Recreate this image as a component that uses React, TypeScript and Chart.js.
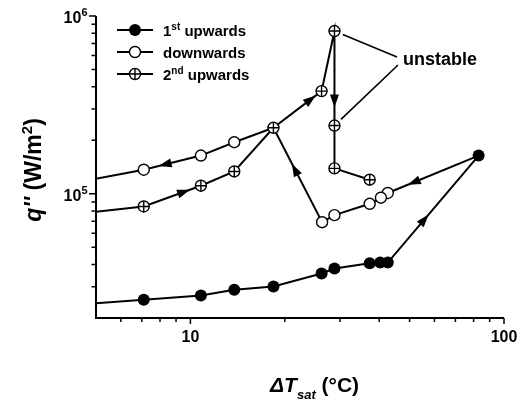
import React, { useEffect, useRef } from "react";
import { Chart, registerables } from "chart.js";

Chart.register(...registerables);

// ---- data (ΔTsat in °C, q'' in W/m²) ----
const up1X = [4, 7.1, 10.8, 13.8, 18.4, 26.2, 28.8, 37.3, 40.3, 42.6, 83];
const up1Y = [2.35e4, 2.53e4, 2.68e4, 2.88e4, 3.01e4, 3.56e4, 3.8e4, 4.07e4, 4.1e4, 4.1e4, 1.64e5];

const downX = [83, 42.6, 40.5, 37.3, 28.8, 26.3, 18.4, 13.8, 10.8, 7.1, 4];
const downY = [1.64e5, 1.01e5, 9.5e4, 8.78e4, 7.58e4, 6.92e4, 2.35e5, 1.95e5, 1.64e5, 1.365e5, 1.125e5];
const downMarker = [false, true, true, true, true, true, false, true, true, true, true];

const up2X = [4, 7.1, 10.8, 13.8, 18.4, 26.2, 28.8, 28.8, 28.8, 37.3];
const up2Y = [7.6e4, 8.48e4, 1.11e5, 1.335e5, 2.35e5, 3.78e5, 8.23e5, 2.42e5, 1.39e5, 1.2e5];

const seriesNames = ["1st upwards", "downwards", "2nd upwards"];

// arrows: series, segment start index, fraction along the segment
const arrowSpecs = [
  { s: "up2", i: 1, t: 0.81 },
  { s: "up2", i: 4, t: 0.88 },
  { s: "up2", i: 6, t: 0.81 },
  { s: "down", i: 0, t: 0.78 },
  { s: "down", i: 5, t: 0.62 },
  { s: "down", i: 8, t: 0.74 },
  { s: "up1", i: 9, t: 0.45 },
];

// annotated "unstable" points (indices into up2)
const unstableIdx = [6, 7];

const xMajor = [10, 100];
const xMajorLabels = ["10", "100"];
const yMajor = [1e5, 1e6];
const yMajorExp = ["5", "6"];
const minorMult = [2, 3, 4, 5, 6, 7, 8, 9];
const xDecades = [1, 10];
const yDecades = [1e4, 1e5];

const FF = '"Liberation Sans", Arial, Helvetica, sans-serif';

function zip(xs: number[], ys: number[]) {
  return xs.map((x, i) => ({ x, y: ys[i] }));
}

type Seg = { t: string; font: string; dy?: number };
function drawSegs(ctx: CanvasRenderingContext2D, segs: Seg[], x: number, y: number, align: "left" | "center" | "right") {
  let w = 0;
  for (const s of segs) {
    ctx.font = s.font;
    w += ctx.measureText(s.t).width;
  }
  let cx = align === "center" ? x - w / 2 : align === "right" ? x - w : x;
  ctx.textAlign = "left";
  ctx.textBaseline = "alphabetic";
  for (const s of segs) {
    ctx.font = s.font;
    ctx.fillText(s.t, cx, y + (s.dy || 0));
    cx += ctx.measureText(s.t).width;
  }
}

export default function App() {
  const ref = useRef<HTMLCanvasElement | null>(null);

  useEffect(() => {
    const canvas = ref.current!;

    const drawFilled = (ctx: CanvasRenderingContext2D, x: number, y: number) => {
      ctx.beginPath();
      ctx.arc(x, y, 6, 0, Math.PI * 2);
      ctx.fillStyle = "#000";
      ctx.fill();
    };
    const drawOpen = (ctx: CanvasRenderingContext2D, x: number, y: number) => {
      ctx.beginPath();
      ctx.arc(x, y, 5.5, 0, Math.PI * 2);
      ctx.fillStyle = "#fff";
      ctx.fill();
      ctx.lineWidth = 1.4;
      ctx.strokeStyle = "#000";
      ctx.stroke();
    };
    const drawCross = (ctx: CanvasRenderingContext2D, x: number, y: number) => {
      drawOpen(ctx, x, y);
      ctx.beginPath();
      ctx.moveTo(x - 5.5, y);
      ctx.lineTo(x + 5.5, y);
      ctx.moveTo(x, y - 5.5);
      ctx.lineTo(x, y + 5.5);
      ctx.stroke();
    };

    const overlay = {
      id: "overlay",
      afterDatasetsDraw(chart: any) {
        const ctx: CanvasRenderingContext2D = chart.ctx;
        const xs = chart.scales.x;
        const ys = chart.scales.y;
        const px = (v: number) => xs.getPixelForValue(v);
        const py = (v: number) => ys.getPixelForValue(v);
        const series: Record<string, { x: number[]; y: number[] }> = {
          up1: { x: up1X, y: up1Y },
          down: { x: downX, y: downY },
          up2: { x: up2X, y: up2Y },
        };
        ctx.save();
        ctx.fillStyle = "#000";
        for (const a of arrowSpecs) {
          const sr = series[a.s];
          const p0 = { x: px(sr.x[a.i]), y: py(sr.y[a.i]) };
          const p1 = { x: px(sr.x[a.i + 1]), y: py(sr.y[a.i + 1]) };
          const dx = p1.x - p0.x;
          const dy = p1.y - p0.y;
          const L = Math.hypot(dx, dy);
          const ux = dx / L;
          const uy = dy / L;
          const tx = p0.x + dx * a.t;
          const ty = p0.y + dy * a.t;
          const len = 13;
          const hw = 4.5;
          const bx = tx - ux * len;
          const by = ty - uy * len;
          ctx.beginPath();
          ctx.moveTo(tx, ty);
          ctx.lineTo(bx - uy * hw, by + ux * hw);
          ctx.lineTo(bx + uy * hw, by - ux * hw);
          ctx.closePath();
          ctx.fill();
        }
        ctx.restore();
      },
      afterDraw(chart: any) {
        const ctx: CanvasRenderingContext2D = chart.ctx;
        const area = chart.chartArea;
        const xs = chart.scales.x;
        const ys = chart.scales.y;
        const px = (v: number) => xs.getPixelForValue(v);
        const py = (v: number) => ys.getPixelForValue(v);
        ctx.save();
        ctx.strokeStyle = "#000";
        ctx.fillStyle = "#000";

        // axes
        ctx.lineWidth = 2;
        ctx.beginPath();
        ctx.moveTo(area.left, area.top);
        ctx.lineTo(area.left, area.bottom);
        ctx.lineTo(area.right, area.bottom);
        ctx.stroke();

        // ticks
        ctx.lineWidth = 1.5;
        ctx.beginPath();
        for (const d of yDecades) {
          for (const m of minorMult) {
            const v = d * m;
            if (v <= 2e4 || v >= 1e6) continue;
            const y = py(v);
            ctx.moveTo(area.left, y);
            ctx.lineTo(area.left - 4.5, y);
          }
        }
        for (const v of yMajor) {
          const y = py(v);
          ctx.moveTo(area.left, y);
          ctx.lineTo(area.left - 7, y);
        }
        for (const d of xDecades) {
          for (const m of minorMult) {
            const v = d * m;
            if (v <= 5 || v >= 100) continue;
            const x = px(v);
            ctx.moveTo(x, area.bottom);
            ctx.lineTo(x, area.bottom + 4);
          }
        }
        for (const v of xMajor) {
          const x = px(v);
          ctx.moveTo(x, area.bottom);
          ctx.lineTo(x, area.bottom + 6);
        }
        ctx.stroke();

        // tick labels
        xMajor.forEach((v, i) => {
          drawSegs(ctx, [{ t: xMajorLabels[i], font: `bold 16px ${FF}` }], px(v), area.bottom + 24, "center");
        });
        yMajor.forEach((v, i) => {
          const y = py(v);
          drawSegs(
            ctx,
            [
              { t: "10", font: `bold 16px ${FF}`, dy: 7 },
              { t: yMajorExp[i], font: `bold 11px ${FF}`, dy: 0 },
            ],
            area.left - 8.5,
            y,
            "right"
          );
        });

        // x title
        drawSegs(
          ctx,
          [
            { t: "ΔT", font: `italic bold 21px ${FF}` },
            { t: "sat", font: `italic bold 13px ${FF}`, dy: 7 },
            { t: " (°C)", font: `bold 21px ${FF}` },
          ],
          270,
          392,
          "left"
        );

        // y title
        ctx.save();
        ctx.translate(41, 170);
        ctx.rotate(-Math.PI / 2);
        drawSegs(
          ctx,
          [
            { t: "q''", font: `italic bold 23px ${FF}` },
            { t: " (W/m", font: `bold 23px ${FF}` },
            { t: "2", font: `bold 15px ${FF}`, dy: -9.5 },
            { t: ")", font: `bold 23px ${FF}` },
          ],
          0,
          0,
          "center"
        );
        ctx.restore();

        // legend
        const rows = [30, 52, 74];
        const sups = ["st", "", "nd"];
        const firsts = ["1", "downwards", "2"];
        const rests = [" upwards", "", " upwards"];
        rows.forEach((ry, i) => {
          ctx.lineWidth = 2;
          ctx.strokeStyle = "#000";
          ctx.beginPath();
          ctx.moveTo(117, ry);
          ctx.lineTo(153, ry);
          ctx.stroke();
          if (i === 0) drawFilled(ctx, 135, ry);
          else if (i === 1) drawOpen(ctx, 135, ry);
          else drawCross(ctx, 135, ry);
          ctx.fillStyle = "#000";
          const segs: Seg[] = [{ t: firsts[i], font: `bold 15px ${FF}` }];
          if (sups[i]) segs.push({ t: sups[i], font: `bold 10px ${FF}`, dy: -6 });
          if (rests[i]) segs.push({ t: rests[i], font: `bold 15px ${FF}` });
          drawSegs(ctx, segs, 163, ry + 5.5, "left");
        });

        // "unstable" annotation
        const tx = 403;
        const tyb = 65;
        ctx.fillStyle = "#000";
        drawSegs(ctx, [{ t: "unstable", font: `bold 18px ${FF}` }], tx, tyb, "left");
        const ends = [
          { x: 397, y: 57 },
          { x: 398, y: 65 },
        ];
        ctx.lineWidth = 1.6;
        ctx.strokeStyle = "#000";
        ctx.beginPath();
        unstableIdx.forEach((idx, k) => {
          const cx = px(up2X[idx]);
          const cy = py(up2Y[idx]);
          const e = ends[k];
          const dx = e.x - cx;
          const dy = e.y - cy;
          const L = Math.hypot(dx, dy);
          ctx.moveTo(cx + (dx / L) * 9, cy + (dy / L) * 9);
          ctx.lineTo(e.x, e.y);
        });
        ctx.stroke();

        ctx.restore();
      },
    };

    const chart = new Chart(canvas, {
      type: "scatter",
      data: {
        datasets: [
          {
            label: seriesNames[2] + " cross",
            data: zip(up2X, up2Y),
            showLine: false,
            pointStyle: "cross",
            pointRadius: 5.5,
            pointBorderColor: "#000",
            pointBorderWidth: 1.4,
          },
          {
            label: seriesNames[2],
            data: zip(up2X, up2Y),
            showLine: true,
            borderColor: "#000",
            borderWidth: 2,
            pointStyle: "circle",
            pointRadius: 5.5,
            pointBackgroundColor: "#fff",
            pointBorderColor: "#000",
            pointBorderWidth: 1.4,
            tension: 0,
          },
          {
            label: seriesNames[1],
            data: zip(downX, downY),
            showLine: true,
            borderColor: "#000",
            borderWidth: 2,
            pointStyle: "circle",
            pointRadius: downMarker.map((m) => (m ? 5.5 : 0)),
            pointBackgroundColor: "#fff",
            pointBorderColor: "#000",
            pointBorderWidth: 1.4,
            tension: 0,
          },
          {
            label: seriesNames[0],
            data: zip(up1X, up1Y),
            showLine: true,
            borderColor: "#000",
            borderWidth: 2,
            pointStyle: "circle",
            pointRadius: 6,
            pointBackgroundColor: "#000",
            pointBorderColor: "#000",
            pointBorderWidth: 0,
            tension: 0,
          },
        ],
      },
      options: {
        responsive: false,
        animation: false,
        devicePixelRatio: 1,
        events: [],
        layout: { padding: { left: 96, right: 18, top: 16, bottom: 84 } },
        plugins: { legend: { display: false }, tooltip: { enabled: false } },
        scales: {
          x: { type: "logarithmic", min: 5, max: 100, display: false },
          y: { type: "logarithmic", min: 2e4, max: 1e6, display: false },
        },
      },
      plugins: [overlay],
    } as any);

    return () => chart.destroy();
  }, []);

  return (
    <div style={{ position: "absolute", left: 0, top: 0, width: 522, height: 402, background: "#fff" }}>
      <canvas ref={ref} width={522} height={402} style={{ display: "block" }} />
    </div>
  );
}
